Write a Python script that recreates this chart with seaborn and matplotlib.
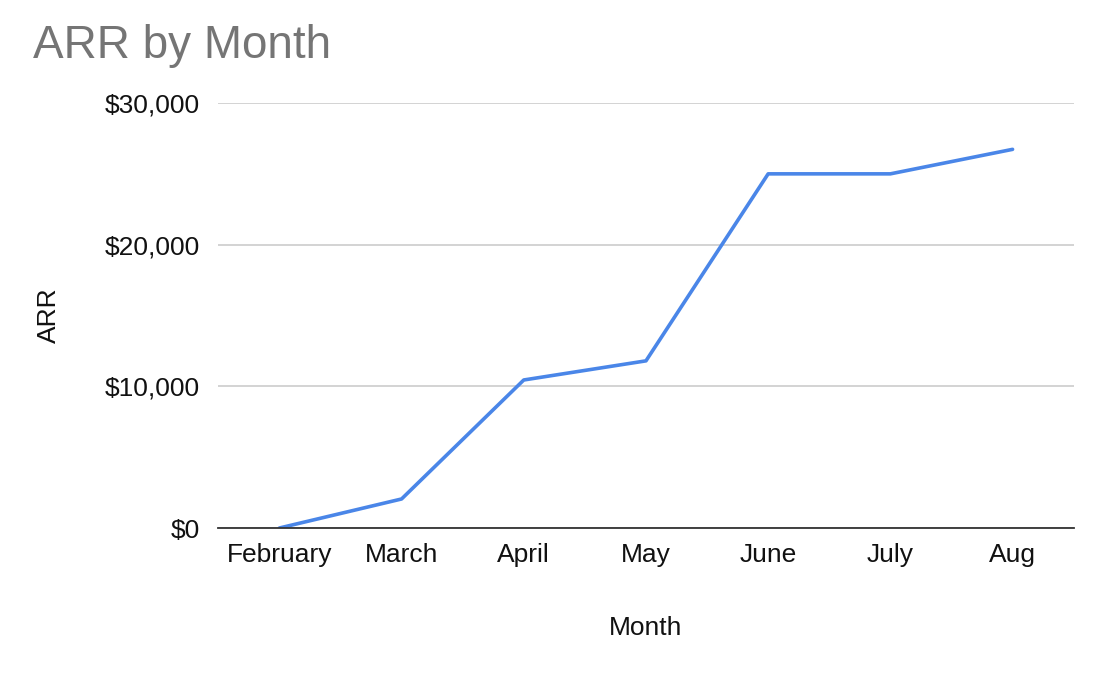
import matplotlib
matplotlib.use('Agg')
import matplotlib.pyplot as plt
import matplotlib.ticker as mticker
import seaborn as sns
import pandas as pd

months = ['February', 'March', 'April', 'May', 'June', 'July', 'Aug']
arr = [0, 2050, 10450, 11800, 25000, 25000, 26730]

df = pd.DataFrame({'Month': months, 'ARR': arr})

sns.set_style('white')
plt.rcParams['font.family'] = ['Liberation Sans', 'DejaVu Sans']

fig = plt.figure(figsize=(11.08, 6.8), dpi=100)
ax = fig.add_axes([0.197, 0.2235, 0.772, 0.625])

sns.lineplot(data=df, x='Month', y='ARR', ax=ax, color='#4a86e8', linewidth=2.6, sort=False)

ax.set_xlim(-0.5, 6.5)
ax.set_ylim(0, 30000)
ax.set_yticks([0, 10000, 20000, 30000])
ax.yaxis.set_major_formatter(mticker.FuncFormatter(lambda v, p: f'${v:,.0f}'))
ax.grid(axis='y', color='#cccccc', linewidth=1.2)
ax.set_axisbelow(True)
for s in ['top', 'right', 'left']:
    ax.spines[s].set_visible(False)
ax.spines['bottom'].set_color('#333333')
ax.spines['bottom'].set_linewidth(1.3)
ax.tick_params(axis='both', length=0, labelsize=19, colors='#111111')
ax.tick_params(axis='x', pad=11)
ax.tick_params(axis='y', pad=13)

ax.set_xlabel('Month', fontsize=19, color='#111111', labelpad=35)
ax.set_ylabel('ARR', fontsize=19, color='#111111', labelpad=32)

fig.text(0.03, 0.915, 'ARR by Month', fontsize=33, color='#757575', ha='left', va='baseline')

fig.savefig('out.png', dpi=100)
